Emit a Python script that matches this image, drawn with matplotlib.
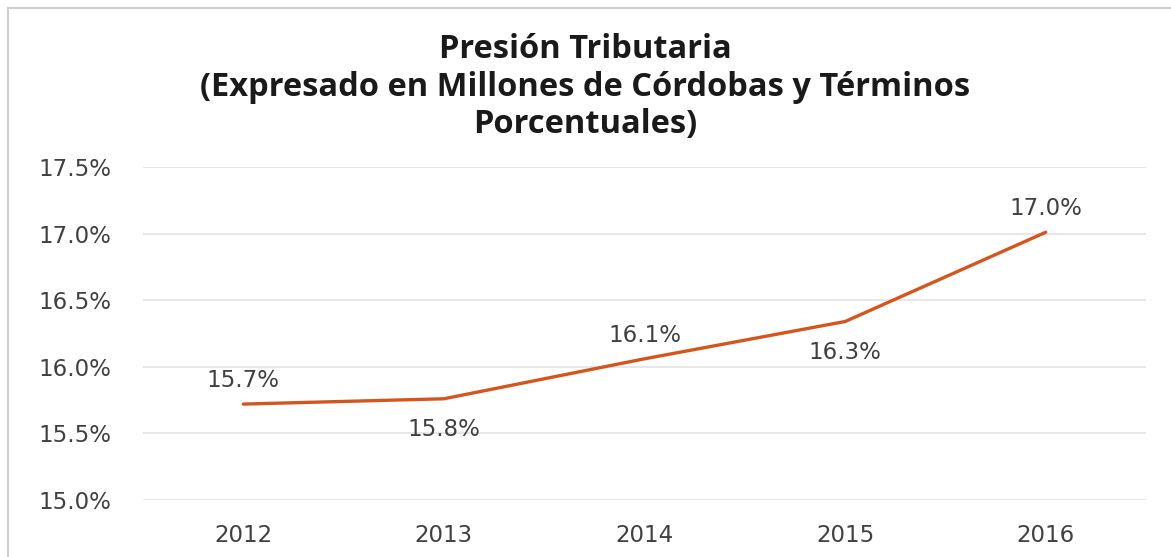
import matplotlib
matplotlib.use("Agg")
import matplotlib.pyplot as plt
from matplotlib.patches import Rectangle

# datos
years = ["2012", "2013", "2014", "2015", "2016"]
presion = [15.72, 15.76, 16.06, 16.34, 17.01]
labels = ["15.7%", "15.8%", "16.1%", "16.3%", "17.0%"]
label_side = [1, -1, 1, -1, 1]  # 1 arriba, -1 abajo
yticks = [15.0, 15.5, 16.0, 16.5, 17.0, 17.5]

txt_font = "DejaVu Sans"
txt_color = "#404040"

fig = plt.figure(figsize=(11.71, 5.57), dpi=100)

# marco gris del grafico (solo se ve arriba y a la izquierda)
fig.patches.append(Rectangle((8 / 1171, -0.05), 1.2, 1 - 8 / 557 + 0.05,
                             transform=fig.transFigure, fill=False,
                             edgecolor="#d0d0d0", linewidth=1.5))

ax = fig.add_axes([143 / 1171, 1 - 500 / 557, 1003 / 1171, 333 / 557])
x = list(range(len(years)))
ax.plot(x, presion, color="#D4561E", linewidth=2.4, solid_capstyle="round")

for i, (v, lab, s) in enumerate(zip(presion, labels, label_side)):
    off = 17 if s > 0 else -22
    ax.annotate(lab, (i, v), xytext=(0, off), textcoords="offset points",
                ha="center", va="center", fontsize=16.5, color=txt_color,
                family=txt_font)

ax.set_xlim(-0.5, len(years) - 0.5)
ax.set_ylim(15.0, 17.5)
ax.set_xticks(x)
ax.set_xticklabels(years)
ax.set_yticks(yticks)
ax.set_yticklabels([f"{t:.1f}%" for t in yticks])
ax.tick_params(length=0, labelsize=16.5, labelcolor=txt_color)
ax.tick_params(axis="y", pad=23)
ax.tick_params(axis="x", pad=17)
for t in ax.get_xticklabels() + ax.get_yticklabels():
    t.set_family(txt_font)
ax.grid(axis="y", color="#e3e3e3", linewidth=1.2)
ax.set_axisbelow(True)
for sp in ax.spines.values():
    sp.set_visible(False)

fig.text(0.5, 1 - 33 / 557, "Presión Tributaria\n(Expresado en Millones de Córdobas y Términos\nPorcentuales)",
         ha="center", va="top", fontsize=23.5, fontweight="bold", color="#1a1a1a",
         family="Open Sans", linespacing=1.18)

fig.savefig("out.png", dpi=100)
